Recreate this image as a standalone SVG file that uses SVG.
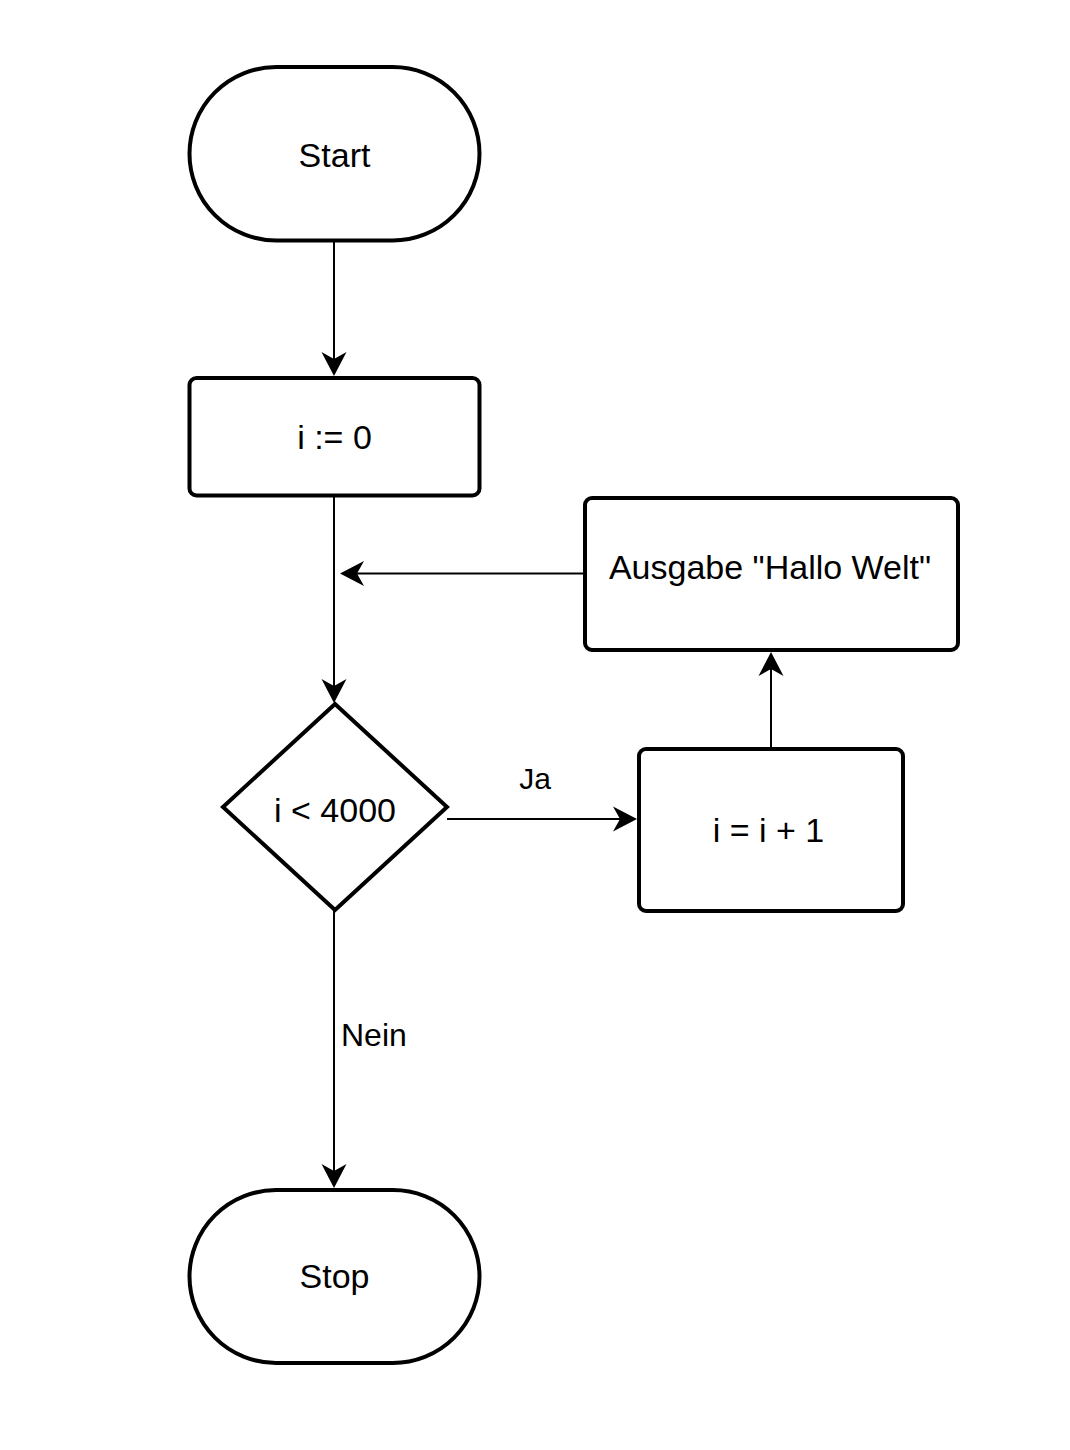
<svg xmlns="http://www.w3.org/2000/svg" width="1070" height="1450" viewBox="0 0 1070 1450">
<style>
.node{fill:#fff;stroke:#000;stroke-width:4}
.lbl{font-family:"Liberation Sans",Arial,Helvetica,sans-serif;font-size:34px;fill:#000;text-anchor:middle}
.elbl{font-family:"Liberation Sans",Arial,Helvetica,sans-serif;fill:#000}
.edge{fill:none;stroke:#000;stroke-width:2}
</style>
<defs>
<marker id="arr" markerUnits="userSpaceOnUse" viewBox="-18 -13 27 26" markerWidth="27" markerHeight="26" refX="0" refY="0" orient="auto">
<path d="M8,0 L-16,-12.5 L-9,0 L-16,12.5 Z" fill="#000"/>
</marker>
</defs>
<rect width="1070" height="1450" fill="#fff"/>
<g id="connectors">
<path class="edge" d="M334,241 L334,368" marker-end="url(#arr)"/>
<path class="edge" d="M334,497 L334,695" marker-end="url(#arr)"/>
<path class="edge" d="M583,573.5 L348,573.5" marker-end="url(#arr)"/>
<path class="edge" d="M447,819 L629,819" marker-end="url(#arr)"/>
<path class="edge" d="M771,747 L771,660" marker-end="url(#arr)"/>
<path class="edge" d="M334,910 L334,1180" marker-end="url(#arr)"/>
<text class="elbl" x="535" y="789" font-size="30" text-anchor="middle">Ja</text>
<text class="elbl" x="341" y="1046" font-size="32">Nein</text>
</g>
<g id="start">
<rect class="node" x="189.5" y="67" width="290" height="173.5" rx="86.75" ry="86.75"/>
<text class="lbl" x="334.5" y="167">Start</text>
</g>
<g id="init">
<rect class="node" x="189.5" y="378" width="290" height="117.5" rx="7" ry="7"/>
<text class="lbl" x="334.5" y="448.5">i := 0</text>
</g>
<g id="output">
<rect class="node" x="585" y="498" width="373" height="152" rx="7" ry="7"/>
<text class="lbl" x="770" y="579">Ausgabe "Hallo Welt"</text>
</g>
<g id="decision">
<polygon class="node" points="335,704 447,807 335,910 223,807"/>
<text class="lbl" x="335" y="821.5">i &lt; 4000</text>
</g>
<g id="increment">
<rect class="node" x="639" y="749" width="264" height="162" rx="7" ry="7"/>
<text class="lbl" x="768.5" y="841.5">i = i + 1</text>
</g>
<g id="stop">
<rect class="node" x="189.5" y="1190" width="290" height="173" rx="86.5" ry="86.5"/>
<text class="lbl" x="334.5" y="1288">Stop</text>
</g>
</svg>
